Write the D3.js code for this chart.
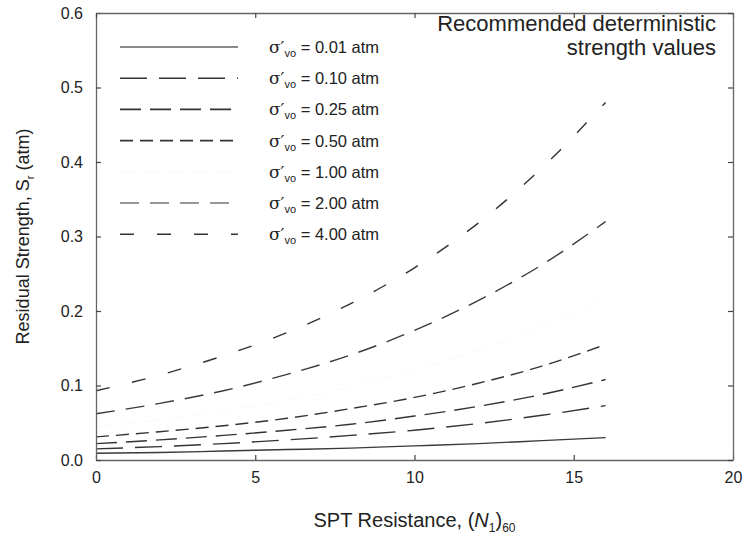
<!DOCTYPE html>
<meta charset="utf-8">
<title>Residual strength vs SPT resistance</title>
<style>
  body { margin: 0; background: #fff; }
  text { font-family: Arial, "Liberation Sans", sans-serif; fill: #222; }
</style>
<body>
<script src="https://cdn.jsdelivr.net/npm/d3@7"></script>
<script>

var width = 747,
    height = 544,
    margin = {top: 13, right: 14, bottom: 84, left: 96};

// SPT resistance (N1)60 where the curves were read
var spt = [0, 2, 4, 6, 8, 10, 12, 14, 16];

// residual strength Sr (atm), one list per effective vertical stress
var sr001 = [0.009, 0.010, 0.012, 0.014, 0.016, 0.019, 0.022, 0.026, 0.030];
var sr010 = [0.015, 0.018, 0.022, 0.027, 0.033, 0.040, 0.049, 0.060, 0.073];
var sr025 = [0.022, 0.027, 0.033, 0.040, 0.048, 0.059, 0.072, 0.088, 0.108];
var sr050 = [0.031, 0.038, 0.046, 0.056, 0.069, 0.084, 0.103, 0.126, 0.155];
var sr100 = [0.044, 0.054, 0.066, 0.080, 0.098, 0.120, 0.147, 0.180, 0.220];
var sr200 = [0.062, 0.076, 0.093, 0.115, 0.141, 0.174, 0.214, 0.262, 0.320];
var sr400 = [0.093, 0.114, 0.140, 0.171, 0.210, 0.258, 0.318, 0.392, 0.480];

var stressLabels = ["0.01", "0.10", "0.25", "0.50", "1.00", "2.00", "4.00"];
var xTicks = [0, 5, 10, 15, 20];
var yTicks = [0, 0.1, 0.2, 0.3, 0.4, 0.5, 0.6];

// line styles per series (legend order); the 1.00 atm curve is washed out in the scan
var dashes = ["none", "27,12", "21,9", "13,7", "16,8", "19,11", "14,23"];
var colors = ["#3a3a3a", "#333", "#333", "#333", "#fbfbfb", "#3a3a3a", "#333"];
var legendColors = ["#8a8a8a", "#333", "#333", "#333", "#fbfbfb", "#777", "#333"];

var series = [sr001, sr010, sr025, sr050, sr100, sr200, sr400].map(function (vals, i) {
  return {
    label: stressLabels[i],
    dash: dashes[i],
    color: colors[i],
    legendColor: legendColors[i],
    points: vals.map(function (v, j) { return {n: spt[j], sr: v}; })
  };
});

var svg = d3.select("body").append("svg")
  .attr("width", width)
  .attr("height", height);

var w = width - margin.left - margin.right,
    h = height - margin.top - margin.bottom;

var g = svg.append("g")
  .attr("transform", "translate(" + margin.left + "," + margin.top + ")");

var x = d3.scaleLinear().domain([0, 20]).range([0, w]);
var y = d3.scaleLinear().domain([0, 0.6]).range([h, 0]);

// curves
var line = d3.line()
  .x(function (d) { return x(d.n); })
  .y(function (d) { return y(d.sr); })
  .curve(d3.curveMonotoneX);

g.selectAll("path.curve")
  .data(series)
  .enter().append("path")
  .attr("class", "curve")
  .attr("d", function (d) { return line(d.points); })
  .attr("fill", "none")
  .attr("stroke", function (d) { return d.color; })
  .attr("stroke-width", 1.4)
  .attr("stroke-dasharray", function (d) { return d.dash; });

// axes, ticks pointing inwards on all four sides
function styleAxis(sel) {
  sel.select(".domain").attr("stroke", "#666").attr("stroke-width", 1.3);
  sel.selectAll(".tick line").attr("stroke", "#444").attr("stroke-width", 1.2);
  sel.selectAll(".tick text")
    .attr("fill", "#222")
    .style("font-size", "16px")
    .style("font-family", "Arial, 'Liberation Sans', sans-serif");
}

g.append("g")
  .attr("transform", "translate(0," + h + ")")
  .call(d3.axisBottom(x).tickValues(xTicks).tickSize(-5).tickPadding(12).tickSizeOuter(0))
  .call(styleAxis);

g.append("g")
  .call(d3.axisLeft(y).tickValues(yTicks).tickSize(-5).tickPadding(13).tickSizeOuter(0)
    .tickFormat(d3.format(".1f")))
  .call(styleAxis);

g.append("g")
  .call(d3.axisTop(x).tickValues(xTicks).tickSize(-5).tickSizeOuter(0).tickFormat(""))
  .call(styleAxis);

g.append("g")
  .attr("transform", "translate(" + w + ",0)")
  .call(d3.axisRight(y).tickValues(yTicks).tickSize(-5).tickSizeOuter(0).tickFormat(""))
  .call(styleAxis);

// axis titles
var xTitle = svg.append("text")
  .attr("x", margin.left + w / 2)
  .attr("y", 527)
  .attr("text-anchor", "middle")
  .style("font-size", "20px");
xTitle.append("tspan").text("SPT Resistance, (");
xTitle.append("tspan").text("N").style("font-style", "italic");
xTitle.append("tspan").text("1").style("font-size", "12px").attr("dy", 5);
xTitle.append("tspan").text(")").attr("dy", -5);
xTitle.append("tspan").text("60").style("font-size", "12px").attr("dy", 5);

var yTitle = svg.append("text")
  .attr("transform", "translate(29," + (margin.top + h / 2) + ") rotate(-90)")
  .attr("text-anchor", "middle")
  .style("font-size", "18px");
yTitle.append("tspan").text("Residual Strength, ");
yTitle.append("tspan").text("S");
yTitle.append("tspan").text("r").style("font-size", "11px").attr("dy", 5);
yTitle.append("tspan").text(" (atm)").attr("dy", -5);

// note
var note = svg.append("text")
  .attr("text-anchor", "end")
  .style("font-size", "22px");
note.append("tspan").attr("x", 716).attr("y", 31).text("Recommended deterministic");
note.append("tspan").attr("x", 716).attr("y", 55).text("strength values");

// legend
var legend = svg.append("g").attr("transform", "translate(120,47)");

var row = legend.selectAll("g.row")
  .data(series)
  .enter().append("g")
  .attr("class", "row")
  .attr("transform", function (d, i) { return "translate(0," + (i * 31.2) + ")"; });

row.append("line")
  .attr("x1", 0).attr("x2", 118)
  .attr("stroke", function (d) { return d.legendColor; })
  .attr("stroke-width", function (d, i) { return i === 0 ? 2.2 : 1.6; })
  .attr("stroke-dasharray", function (d) { return d.dash; });

var lt = row.append("text")
  .attr("x", 149)
  .attr("y", 6)
  .style("font-size", "16.5px");
lt.append("tspan").text("σ′").style("font-family", "'DejaVu Serif', serif").style("font-size", "17px");
lt.append("tspan").text("vo").style("font-size", "11px").attr("dy", 4);
lt.append("tspan").text(function (d) { return " = " + d.label + " atm"; }).attr("dy", -4);

</script>
</body>
